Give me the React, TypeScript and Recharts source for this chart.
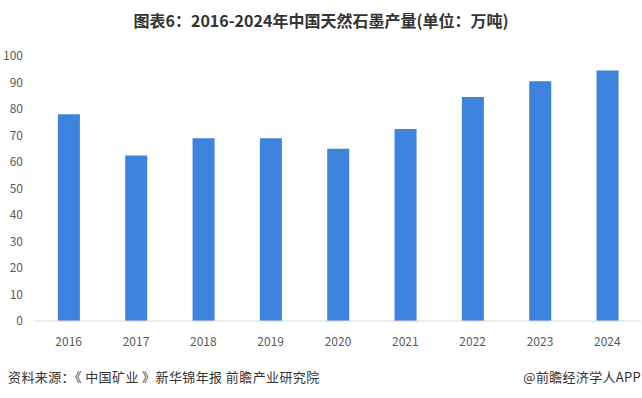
import { BarChart, Bar, XAxis, YAxis, CartesianGrid } from 'recharts';

const years = ['2016', '2017', '2018', '2019', '2020', '2021', '2022', '2023', '2024'];
const output = [78, 62.5, 69, 69, 65, 72.5, 84.5, 90.5, 94.5];
const yTicks = [0, 10, 20, 30, 40, 50, 60, 70, 80, 90, 100];

const data = years.map((year, i) => ({ year, output: output[i] }));

const font = '"Microsoft YaHei", "Noto Sans CJK SC", "Noto Sans", sans-serif';

export default function App() {
  return (
    <div style={{ position: 'relative', width: 642, height: 398, background: '#fff', fontFamily: font }}>
      <style>{'body{margin:0}'}</style>
      <div
        style={{
          position: 'absolute',
          top: 9,
          left: 0,
          width: 642,
          textAlign: 'center',
          fontSize: 16,
          fontWeight: 'bold',
          color: '#333',
          lineHeight: '22px',
        }}
      >
        图表6：2016-2024年中国天然石墨产量(单位：万吨)
      </div>
      <BarChart
        width={642}
        height={398}
        data={data}
        margin={{ top: 56, right: 1, left: 5, bottom: 47 }}
        barCategoryGap="34%"
      >
        <CartesianGrid vertical={false} horizontal={false} />
        <XAxis
          dataKey="year"
          height={30}
          tick={{ fontSize: 12, fill: '#595959', fontFamily: font }}
          axisLine={{ stroke: '#d9d9d9' }}
          tickLine={false}
          tickMargin={10}
        />
        <YAxis
          width={30}
          domain={[0, 100]}
          ticks={yTicks}
          interval={0}
          tick={{ fontSize: 12, fill: '#595959', fontFamily: font }}
          axisLine={false}
          tickLine={false}
          tickMargin={6}
        />
        <Bar dataKey="output" fill="#3d82dc" isAnimationActive={false} />
      </BarChart>
      <div
        style={{
          position: 'absolute',
          top: 368,
          left: 8,
          fontSize: 13,
          color: '#333',
          lineHeight: '18px',
          letterSpacing: 0.4,
        }}
      >
        资料来源：《 中国矿业 》新华锦年报 前瞻产业研究院
      </div>
      <div
        style={{
          position: 'absolute',
          top: 368,
          right: 1,
          fontSize: 13,
          color: '#333',
          lineHeight: '18px',
          letterSpacing: 0.3,
        }}
      >
        @前瞻经济学人APP
      </div>
    </div>
  );
}
